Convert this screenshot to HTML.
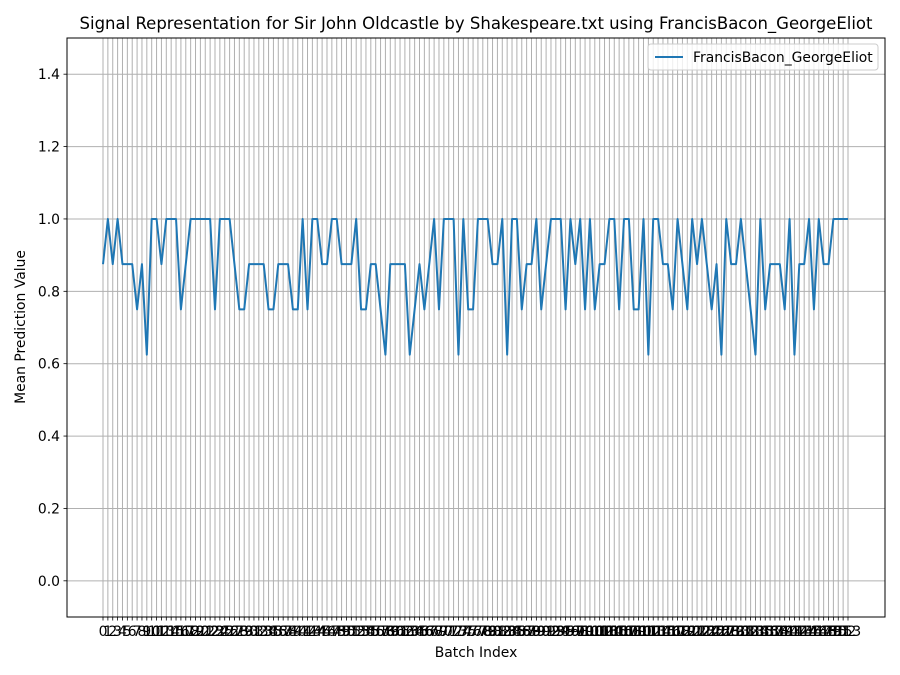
<!DOCTYPE html>
<html><head><meta charset="utf-8"><style>
body{margin:0;background:#fff;}
svg{display:block;font-family:"DejaVu Sans","Liberation Sans",sans-serif;}
</style></head><body>
<svg id="chart" width="900" height="675" viewBox="0 0 900 675">
<rect width="900" height="675" fill="#fff"/>
<text x="476" y="29" text-anchor="middle" font-size="16.5" fill="#000">Signal Representation for Sir John Oldcastle by Shakespeare.txt using FrancisBacon_GeorgeEliot</text>
<g id="grid"></g>
<g id="xticks"></g>
<g id="yticks"></g>
<path id="series" fill="none" stroke="#1f77b4" stroke-width="2" stroke-linejoin="round"/>
<rect x="67" y="38" width="818" height="579" fill="none" stroke="#000" stroke-width="1"/>
<text x="476" y="657" text-anchor="middle" font-size="13.9">Batch Index</text>
<text transform="translate(25,327) rotate(-90)" text-anchor="middle" font-size="13.9">Mean Prediction Value</text>
<g>
<rect x="648" y="44" width="230" height="26" rx="3" fill="#fff" fill-opacity="0.8" stroke="#ccc"/>
<line x1="655" y1="57" x2="683" y2="57" stroke="#1f77b4" stroke-width="2"/>
<text x="693" y="62" font-size="13.9">FrancisBacon_GeorgeEliot</text>
</g>
</svg>
<script>
const values = [
0.875,1,0.875,1,0.875,0.875,0.875,0.75,0.875,0.625,
1,1,0.875,1,1,1,0.75,0.875,1,1,
1,1,1,0.75,1,1,1,0.875,0.75,0.75,
0.875,0.875,0.875,0.875,0.75,0.75,0.875,0.875,0.875,0.75,
0.75,1,0.75,1,1,0.875,0.875,1,1,0.875,
0.875,0.875,1,0.75,0.75,0.875,0.875,0.75,0.625,0.875,
0.875,0.875,0.875,0.625,0.75,0.875,0.75,0.875,1,0.75,
1,1,1,0.625,1,0.75,0.75,1,1,1,
0.875,0.875,1,0.625,1,1,0.75,0.875,0.875,1,
0.75,0.875,1,1,1,0.75,1,0.875,1,0.75,
1,0.75,0.875,0.875,1,1,0.75,1,1,0.75,
0.75,1,0.625,1,1,0.875,0.875,0.75,1,0.875,
0.75,1,0.875,1,0.875,0.75,0.875,0.625,1,0.875,
0.875,1,0.875,0.75,0.625,1,0.75,0.875,0.875,0.875,
0.75,1,0.625,0.875,0.875,1,0.75,1,0.875,0.875,
1,1,1,1];
const yTicks = [0.0,0.2,0.4,0.6,0.8,1.0,1.2,1.4];
const yMin=-0.1, yMax=1.5;
const L=67,R=885,T=38,B=617;
const n=values.length;
const x0=103, x1=848;
function xs(i){return x0+(x1-x0)*i/(n-1);}
function ys(v){return B-(v-yMin)/(yMax-yMin)*(B-T);}
const NS="http://www.w3.org/2000/svg";
const grid=document.getElementById('grid'),xt=document.getElementById('xticks'),yt=document.getElementById('yticks');
for(let i=0;i<n;i++){
  const x=xs(i);
  const g=document.createElementNS(NS,'line');
  g.setAttribute('x1',x);g.setAttribute('x2',x);g.setAttribute('y1',T);g.setAttribute('y2',B);
  g.setAttribute('stroke','#b0b0b0');g.setAttribute('stroke-width','1');
  
  
  grid.appendChild(g);
  const tk=document.createElementNS(NS,'line');
  tk.setAttribute('x1',x);tk.setAttribute('x2',x);tk.setAttribute('y1',B);tk.setAttribute('y2',B+3.5);
  tk.setAttribute('stroke','#000');tk.setAttribute('stroke-width','0.8');
  xt.appendChild(tk);
  const t=document.createElementNS(NS,'text');
  t.setAttribute('x',x);t.setAttribute('y',B+19);t.setAttribute('text-anchor','middle');t.setAttribute('font-size','13.9');
  
  
  t.textContent=i;xt.appendChild(t);
}
yTicks.forEach(v=>{
  const y=ys(v);
  const g=document.createElementNS(NS,'line');
  g.setAttribute('x1',L);g.setAttribute('x2',R);g.setAttribute('y1',y);g.setAttribute('y2',y);
  g.setAttribute('stroke','#b0b0b0');g.setAttribute('stroke-width','1');
  
  
  grid.appendChild(g);
  const tk=document.createElementNS(NS,'line');
  tk.setAttribute('x1',L-3.5);tk.setAttribute('x2',L);tk.setAttribute('y1',y);tk.setAttribute('y2',y);
  tk.setAttribute('stroke','#000');tk.setAttribute('stroke-width','0.8');
  yt.appendChild(tk);
  const t=document.createElementNS(NS,'text');
  t.setAttribute('x',L-7);t.setAttribute('y',y+5);t.setAttribute('text-anchor','end');t.setAttribute('font-size','13.9');
  
  
  t.textContent=v.toFixed(1);yt.appendChild(t);
});
document.getElementById('series').setAttribute('d',values.map((v,i)=>(i?'L':'M')+xs(i).toFixed(2)+' '+ys(v).toFixed(2)).join(' '));
</script>
</body></html>
